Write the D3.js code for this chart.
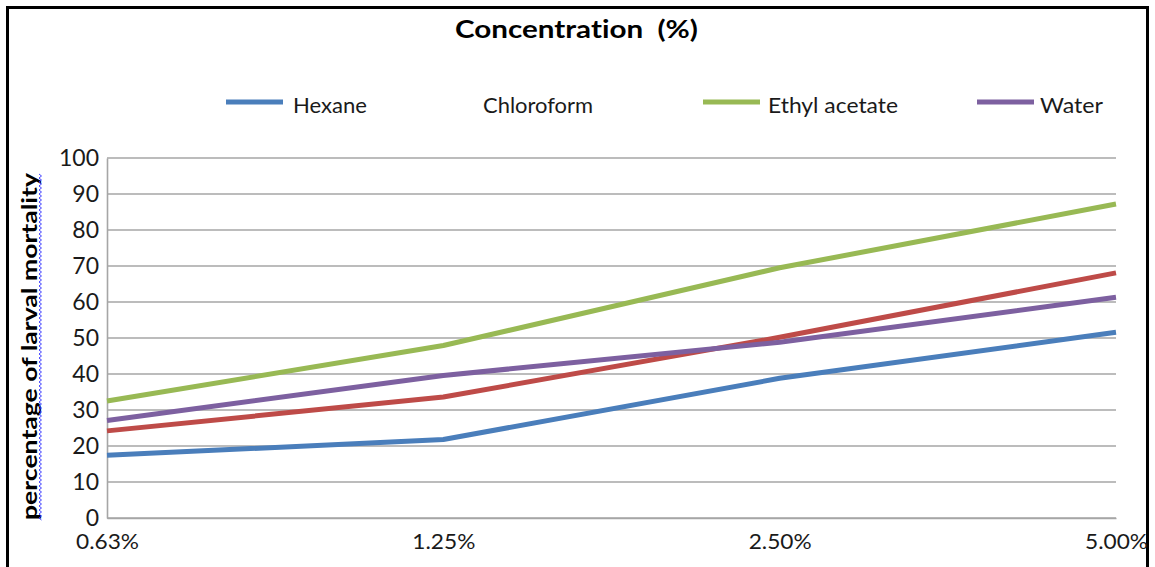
<!DOCTYPE html>
<html>
<head>
<meta charset="utf-8">
<script src="https://cdn.jsdelivr.net/npm/d3@7"></script>
<style>
  html, body { margin: 0; padding: 0; background: #fff; }
  svg { display: block; }
  text { font-variant-ligatures: none; font-feature-settings: "liga" 0, "clig" 0; white-space: pre; }
</style>
</head>
<body>
<svg id="chart" width="1155" height="567"></svg>
<script>
// ---- data ----
const categories = ["0.63%", "1.25%", "2.50%", "5.00%"];
const seriesNames = ["Hexane", "Chloroform", "Ethyl acetate", "Water"];
const hexane = [17.4, 21.8, 38.8, 51.6];
const chloroform = [24.2, 33.6, 50.2, 68.1];
const ethylAcetate = [32.5, 47.9, 69.5, 87.2];
const water = [27.1, 39.6, 48.8, 61.3];
const yTicks = [0, 10, 20, 30, 40, 50, 60, 70, 80, 90, 100];
const titleText = "Concentration  (%)";
const yLabelText = "percentage of larval mortality";

const seriesValues = [hexane, chloroform, ethylAcetate, water];
const colors = ["#4a7ebb", "#be4b48", "#98b954", "#7d60a0"];
const legendShowLine = [true, false, true, true];

const svg = d3.select("#chart");
const font = "Lato, 'Open Sans', 'Liberation Sans', sans-serif";

// outer border
svg.append("rect").attr("x", 7.5).attr("y", 7.5).attr("width", 1140).attr("height", 600)
  .attr("fill", "#fff").attr("stroke", "#000").attr("stroke-width", 3);

const x = d3.scalePoint().domain(categories).range([107, 1116]).padding(0);
const y = d3.scaleLinear().domain([0, 100]).range([518, 158]);

// gridlines
svg.append("g").selectAll("line").data(yTicks).join("line")
  .attr("x1", 107).attr("x2", 1116)
  .attr("y1", d => y(d)).attr("y2", d => y(d))
  .attr("stroke", "#a6a6a6").attr("stroke-width", 1.6);

// y axis
const yAxis = svg.append("g").attr("transform", "translate(107,0)")
  .call(d3.axisLeft(y).tickValues(yTicks).tickSize(0).tickPadding(8));
yAxis.select(".domain").attr("stroke", "#a6a6a6").attr("stroke-width", 1.6);
yAxis.selectAll("text").attr("font-family", font).attr("font-size", 23).attr("fill", "#1a1a1a")
  .attr("dy", "0.34em");

// x axis
const xAxis = svg.append("g").attr("transform", "translate(0,518)")
  .call(d3.axisBottom(x).tickSize(0).tickPadding(15));
xAxis.select(".domain").attr("stroke", "#a6a6a6").attr("stroke-width", 1.6);
xAxis.selectAll("text").attr("font-family", font).attr("font-size", 22).attr("fill", "#1a1a1a")
  .attr("textLength", 63).attr("lengthAdjust", "spacingAndGlyphs");

// lines
const line = d3.line().x((d, i) => x(categories[i])).y(d => y(d));
svg.append("g").selectAll("path").data(seriesValues).join("path")
  .attr("d", d => line(d))
  .attr("fill", "none")
  .attr("stroke", (d, i) => colors[i])
  .attr("stroke-width", 5)
  .attr("stroke-linejoin", "round");

// title
svg.append("text").attr("x", 576.5).attr("y", 38).attr("text-anchor", "middle")
  .attr("xml:space", "preserve")
  .attr("font-family", font).attr("font-weight", "bold").attr("font-size", 25)
  .attr("fill", "#000").attr("textLength", 243).attr("lengthAdjust", "spacingAndGlyphs")
  .text(titleText);

// legend
const legendLineX = [226, null, 703, 977];
const legendTextX = [293, 483, 768, 1040];
const legendTextW = [74, 110, 130, 63];
const lg = svg.append("g");
seriesNames.forEach((name, i) => {
  if (legendShowLine[i]) {
    lg.append("line").attr("x1", legendLineX[i]).attr("x2", legendLineX[i] + 57)
      .attr("y1", 102).attr("y2", 102)
      .attr("stroke", colors[i]).attr("stroke-width", 5);
  }
  lg.append("text").attr("x", legendTextX[i]).attr("y", 113)
    .attr("font-family", font).attr("font-size", 21).attr("fill", "#1a1a1a")
    .attr("textLength", legendTextW[i]).attr("lengthAdjust", "spacingAndGlyphs")
    .text(name);
});

// y label
svg.append("text")
  .attr("transform", "translate(37,346.5) rotate(-90)")
  .attr("text-anchor", "middle")
  .attr("font-family", font).attr("font-weight", "bold").attr("font-size", 20)
  .attr("fill", "#000").attr("textLength", 347).attr("lengthAdjust", "spacingAndGlyphs")
  .text(yLabelText);

// spell-check wavy underline
const wave = [];
for (let yy = 520, k = 0; yy >= 173; yy -= 2, k++) wave.push([k % 2 ? 39 : 41.5, yy]);
svg.append("path").attr("d", d3.line()(wave)).attr("fill", "none")
  .attr("stroke", "#3030ff").attr("stroke-width", 0.9);
</script>
</body>
</html>
